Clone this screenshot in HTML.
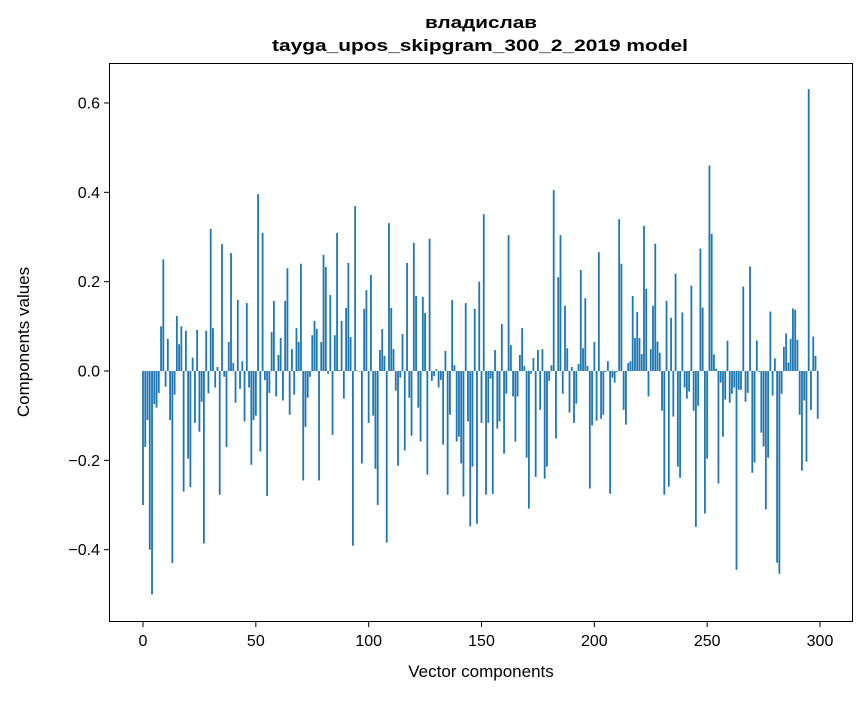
<!DOCTYPE html>
<html><head><meta charset="utf-8"><style>
body{margin:0;background:#fff;}
svg text{font-family:"Liberation Sans","DejaVu Sans",sans-serif;fill:#000;}
</style></head><body>
<svg id="chart" width="867" height="696" xmlns="http://www.w3.org/2000/svg">
<rect width="867" height="696" fill="#fff"/>
<text x="481" y="28" text-anchor="middle" font-size="17" font-weight="bold" textLength="112" lengthAdjust="spacingAndGlyphs">владислав</text>
<text x="480" y="51" text-anchor="middle" font-size="17" font-weight="bold" textLength="416" lengthAdjust="spacingAndGlyphs">tayga_upos_skipgram_300_2_2019 model</text>
<g id="bars"></g>
<g id="yticks"></g>
<g id="xticks"></g>
<rect x="109.5" y="63.5" width="743" height="558" fill="none" stroke="#000" stroke-width="1"/>
<text x="481" y="677" text-anchor="middle" font-size="17">Vector components</text>
<text transform="translate(29,342) rotate(-90)" text-anchor="middle" font-size="17">Components values</text>
</svg>
<script>
const values = [-0.30,-0.17,-0.11,-0.40,-0.50,-0.074,-0.082,-0.049,0.10,0.25,
-0.035,0.072,-0.11,-0.43,-0.053,0.123,0.06,0.10,-0.27,0.09,
-0.196,-0.26,0.03,-0.116,0.092,-0.136,-0.069,-0.386,0.09,-0.05,
0.318,0.096,-0.037,0.009,-0.277,0.284,-0.013,-0.17,0.065,0.264,
0.018,-0.071,0.159,-0.04,0.022,-0.113,0.152,-0.037,-0.21,-0.11,
-0.10,0.396,-0.18,0.309,-0.02,-0.28,-0.049,0.087,0.157,-0.057,
0.036,0.074,-0.066,0.157,0.23,-0.098,0.049,-0.053,0.096,0.065,
0.24,-0.245,-0.125,-0.06,-0.013,0.08,0.112,0.094,-0.245,0.065,
0.26,0.233,-0.006,0.17,-0.143,0.08,0.309,0.002,0.112,-0.062,
0.141,0.242,0.076,-0.391,0.369,0.001,-0.001,-0.207,0.139,0.181,
-0.116,0.215,-0.10,-0.219,-0.30,0.047,0.094,0.034,-0.384,0.331,
0.141,0.049,-0.044,-0.212,-0.015,0.083,-0.178,0.242,-0.06,-0.145,
0.287,0.168,-0.082,-0.158,0.166,0.13,-0.232,0.296,-0.022,-0.011,
0.004,-0.037,-0.02,-0.165,0.045,-0.277,-0.098,0.159,0.013,-0.158,
-0.147,-0.207,-0.281,0.152,-0.113,-0.348,-0.214,0.139,-0.342,0.2,
-0.116,0.351,-0.277,-0.116,-0.017,-0.275,0.047,-0.129,-0.113,0.105,
-0.185,-0.051,0.304,0.058,-0.057,-0.158,-0.057,0.036,0.096,0.011,
-0.194,-0.308,-0.006,0.029,-0.237,0.047,-0.087,0.049,-0.241,-0.214,
-0.022,0.013,0.405,-0.151,0.21,0.304,-0.051,0.146,0.051,-0.093,
0.009,-0.116,-0.073,0.016,0.226,0.051,0.163,0.011,-0.263,-0.122,
0.065,-0.111,0.266,-0.107,-0.098,-0.002,0.022,-0.275,-0.015,-0.026,
-0.002,0.34,0.24,-0.087,-0.12,0.018,0.022,0.168,0.074,0.132,
0.074,0.038,0.325,0.184,-0.057,0.049,0.146,0.285,0.066,0.041,
-0.089,-0.277,0.157,-0.259,0.119,-0.102,0.218,-0.214,-0.239,0.131,
-0.037,-0.062,-0.046,0.191,-0.089,-0.349,-0.078,0.274,0.142,-0.319,
-0.196,0.46,0.307,0.037,0.005,-0.252,-0.026,-0.147,-0.064,0.068,
-0.071,-0.051,-0.037,-0.445,-0.042,-0.042,0.189,-0.069,-0.049,0.234,
-0.228,-0.205,0.068,-0.002,-0.138,-0.169,-0.31,-0.194,0.133,-0.055,
0.028,-0.429,-0.454,-0.051,0.054,0.084,0.019,0.072,0.14,0.137,
0.07,-0.098,-0.223,-0.066,-0.203,0.631,-0.087,0.077,0.034,-0.107];
const yTickValues = [-0.4,-0.2,0.0,0.2,0.4,0.6];
const yTickLabels = ["\u22120.4","\u22120.2","0.0","0.2","0.4","0.6"];
const xTickValues = [0,50,100,150,200,250,300];
const xTickLabels = ["0","50","100","150","200","250","300"];

const NS="http://www.w3.org/2000/svg";
function xs(v){return 143+v*(820-143)/300;}
function ys(v){return 371-v*446.7;}
const barW=0.8*(820-143)/300;
const gb=document.getElementById('bars');
values.forEach(function(v,i){
  const r=document.createElementNS(NS,'rect');
  
  
  const y0=ys(0), y1=ys(v);
  r.setAttribute('x',xs(i)-barW/2);
  r.setAttribute('y',Math.min(y0,y1));
  r.setAttribute('width',barW);
  r.setAttribute('height',Math.max(Math.abs(y1-y0),0.3));
  r.setAttribute('fill','#1f77b4');
  gb.appendChild(r);
});
const gy=document.getElementById('yticks');
yTickValues.forEach(function(v,i){
  const y=ys(v);
  const l=document.createElementNS(NS,'line');
  
  
  l.setAttribute('x1',104);l.setAttribute('x2',109.5);
  l.setAttribute('y1',y);l.setAttribute('y2',y);
  l.setAttribute('stroke','#000');
  gy.appendChild(l);
  const t=document.createElementNS(NS,'text');
  
  
  t.setAttribute('x',100);t.setAttribute('y',y+5.5);
  t.setAttribute('text-anchor','end');t.setAttribute('font-size','16');
  t.textContent=yTickLabels[i];
  gy.appendChild(t);
});
const gx=document.getElementById('xticks');
xTickValues.forEach(function(v,i){
  const x=xs(v);
  const l=document.createElementNS(NS,'line');
  
  
  l.setAttribute('x1',x);l.setAttribute('x2',x);
  l.setAttribute('y1',621.5);l.setAttribute('y2',627);
  l.setAttribute('stroke','#000');
  gx.appendChild(l);
  const t=document.createElementNS(NS,'text');
  
  
  t.setAttribute('x',x);t.setAttribute('y',646);
  t.setAttribute('text-anchor','middle');t.setAttribute('font-size','16');
  t.textContent=xTickLabels[i];
  gx.appendChild(t);
});
</script>
</body></html>
